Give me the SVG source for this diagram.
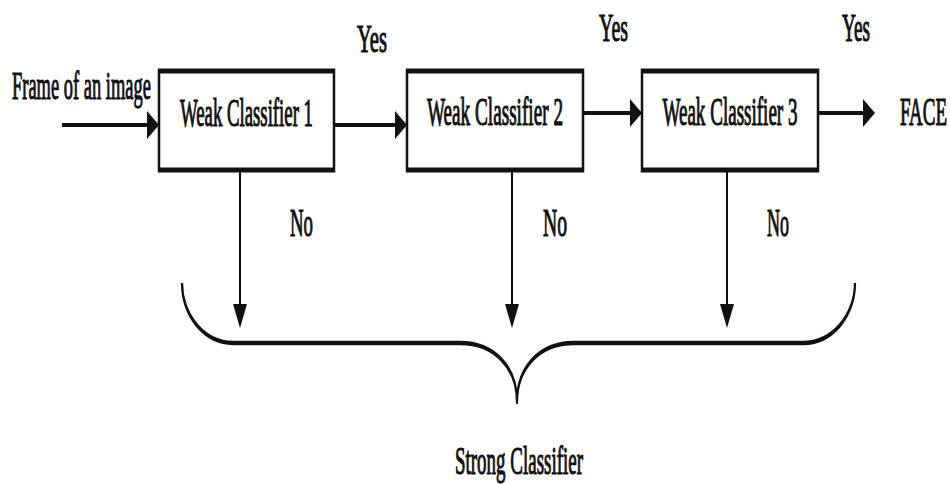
<svg xmlns="http://www.w3.org/2000/svg" width="950" height="484" viewBox="0 0 950 484">
  <style>
    .box { fill: #fff; stroke: #111; stroke-width: 5; }
    .edge { fill: none; stroke: #111; stroke-width: 4; }
    .brace { fill: none; stroke: #111; stroke-width: 4.5; stroke-linejoin: round; }
    text { font-family: "Liberation Serif", "Times New Roman", serif; font-size: 40px; fill: #111; stroke: #111; stroke-width: 1.2px; }
  </style>
  <defs>
    <marker id="arrow" markerUnits="userSpaceOnUse" markerWidth="24" markerHeight="28" refX="12" refY="14" orient="auto" viewBox="0 0 24 28">
      <path d="M0,0 L24,14 L0,28 Z" fill="#111"/>
    </marker>
  </defs>
  <rect width="950" height="484" fill="#fff"/>
  <g transform="scale(0.5,1)">
    <g id="connectors">
      <path class="edge" d="M124,125 L306,125" marker-end="url(#arrow)"/>
      <path class="edge" d="M668,125 L802,125" marker-end="url(#arrow)"/>
      <path class="edge" d="M1166,113 L1272,113" marker-end="url(#arrow)"/>
      <path class="edge" d="M1636,113 L1738,113" marker-end="url(#arrow)"/>
      <path class="edge" d="M480,170 L480,316" marker-end="url(#arrow)"/>
      <path class="edge" d="M1024,170 L1024,316" marker-end="url(#arrow)"/>
      <path class="edge" d="M1454,170 L1454,316" marker-end="url(#arrow)"/>
      <g id="edge-labels">
        <text x="714" y="52" textLength="60" lengthAdjust="spacingAndGlyphs">Yes</text>
        <text x="1198" y="41" textLength="58" lengthAdjust="spacingAndGlyphs">Yes</text>
        <text x="1684" y="41" textLength="56" lengthAdjust="spacingAndGlyphs">Yes</text>
        <text x="580" y="236" textLength="46" lengthAdjust="spacingAndGlyphs">No</text>
        <text x="1086" y="236" textLength="48" lengthAdjust="spacingAndGlyphs">No</text>
        <text x="1534" y="236" textLength="44" lengthAdjust="spacingAndGlyphs">No</text>
      </g>
    </g>
    <g id="input">
      <text x="24" y="99" textLength="278" lengthAdjust="spacingAndGlyphs">Frame of an image</text>
    </g>
    <g id="weak1">
      <rect class="box" x="318" y="71" width="350" height="99"/>
      <text x="493" y="126" text-anchor="middle" textLength="266" lengthAdjust="spacingAndGlyphs">Weak Classifier 1</text>
    </g>
    <g id="weak2">
      <rect class="box" x="814" y="71" width="352" height="99"/>
      <text x="990" y="125" text-anchor="middle" textLength="272" lengthAdjust="spacingAndGlyphs">Weak Classifier 2</text>
    </g>
    <g id="weak3">
      <rect class="box" x="1284" y="71" width="352" height="99"/>
      <text x="1460" y="125" text-anchor="middle" textLength="270" lengthAdjust="spacingAndGlyphs">Weak Classifier 3</text>
    </g>
    <g id="face">
      <text x="1800" y="125" textLength="94" lengthAdjust="spacingAndGlyphs">FACE</text>
    </g>
    <g id="strong">
      <path class="brace" d="M364,283 A102,60 0 0 0 466,343 L920,343 C990,343 1034,368 1034,402 C1034,368 1078,343 1148,343 L1606,343 A104,60 0 0 0 1710,283"/>
      <text x="1038" y="474" text-anchor="middle" textLength="256" lengthAdjust="spacingAndGlyphs">Strong Classifier</text>
    </g>
  </g>
</svg>
